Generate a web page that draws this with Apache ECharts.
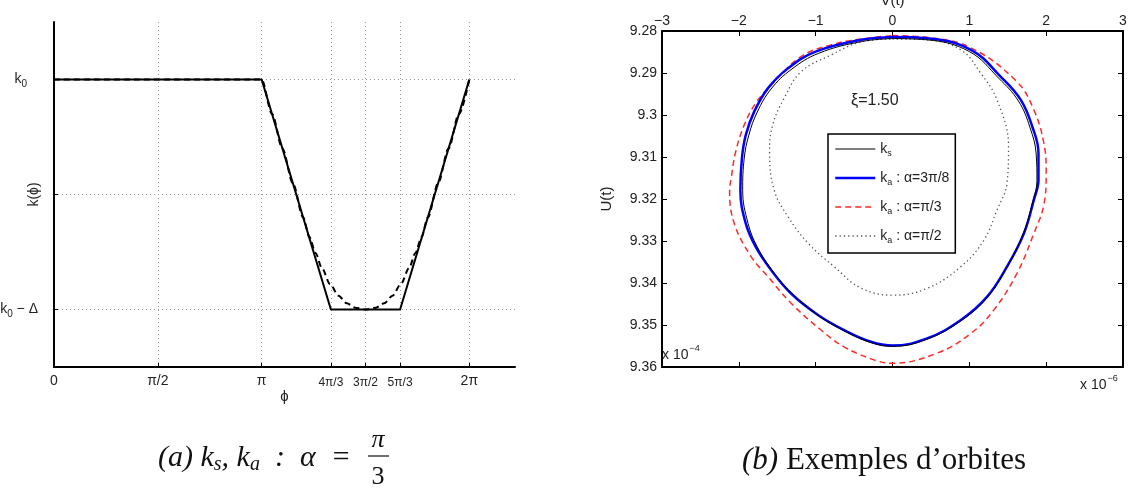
<!DOCTYPE html>
<html lang="fr">
<head>
<meta charset="UTF-8">
<title>k(phi) et exemples d'orbites</title>
<script src="https://cdn.jsdelivr.net/npm/echarts@6/dist/echarts.min.js"></script>
<style>
  html, body { margin: 0; padding: 0; background: #fff; }
  #main { width: 1130px; height: 494px; }
</style>
</head>
<body>
<div id="main"></div>
<script>
// (a) profils k(phi) -- abscisse en multiples de pi, k normalise (k0 = 1, k0 - delta = 0)
const phiTicks = [0, 0.5, 1, 4 / 3, 1.5, 5 / 3, 2];
const phiLabels = ['0', 'π/2', 'π', '4π/3', '3π/2', '5π/3', '2π'];
const kTicks = [0, 0.5, 1];

const ksPhi = [0, 1, 4 / 3, 5 / 3, 2];
const ksK = [1, 1, 0, 0, 1];
const kaPhi = [0, 1, 1.05, 1.1, 1.15, 1.2, 1.23, 1.26, 1.29, 1.33, 1.37, 1.41, 1.45, 1.5,
               1.55, 1.59, 1.63, 1.67, 1.71, 1.74, 1.77, 1.8, 1.85, 1.9, 1.95, 2];
const kaK = [1, 1, 0.85, 0.70, 0.55, 0.40, 0.315, 0.245, 0.18, 0.11, 0.06, 0.027, 0.008, 0,
             0.008, 0.027, 0.06, 0.11, 0.18, 0.245, 0.315, 0.40, 0.55, 0.70, 0.85, 1];

// (b) orbites -- V en unites de 1e-6, U en unites de 1e-4
const orbitNames = ['ks', 'ka : α=3π/8', 'ka : α=π/3', 'ka : α=π/2'];

const vKs = [0, 0.45, 1.00, 1.38, 1.64, 1.79, 1.87, 1.88, 1.83, 1.70, 1.49, 1.23, 0.89, 0.45, 0,
             -0.28, -0.63, -0.97, -1.31, -1.57, -1.76, -1.88, -1.95, -1.93, -1.87, -1.76, -1.58, -1.32, -0.96, -0.40, 0];
const uKs = [9.2818, 9.2821, 9.2849, 9.2912, 9.2967, 9.3030, 9.3093, 9.3156, 9.3203, 9.3283, 9.3362, 9.3435, 9.3490, 9.3534, 9.3551,
             9.3542, 9.3514, 9.3477, 9.3425, 9.3369, 9.3314, 9.3258, 9.3179, 9.3103, 9.3048, 9.2993, 9.2938, 9.2892, 9.2853, 9.2825, 9.2818];

const vA38 = [0, 0.45, 1.02, 1.41, 1.67, 1.82, 1.90, 1.90, 1.84, 1.71, 1.49, 1.23, 0.89, 0.45, 0,
              -0.28, -0.63, -0.97, -1.32, -1.58, -1.78, -1.91, -1.98, -1.96, -1.91, -1.80, -1.62, -1.36, -1.00, -0.41, 0];
const uA38 = [9.2814, 9.2817, 9.2845, 9.2909, 9.2964, 9.3028, 9.3091, 9.3155, 9.3202, 9.3282, 9.3361, 9.3433, 9.3488, 9.3532, 9.3549,
              9.3540, 9.3512, 9.3476, 9.3425, 9.3369, 9.3314, 9.3258, 9.3179, 9.3103, 9.3048, 9.2992, 9.2936, 9.2889, 9.2849, 9.2821, 9.2814];

const vA13 = [0, 0.45, 1.02, 1.62, 1.84, 1.97, 2.00, 1.97, 1.84, 1.62, 1.32, 1.02, 0.58, 0,
              -0.24, -0.63, -0.93, -1.32, -1.62, -1.84, -2.06, -2.12, -2.10, -2.04, -1.93, -1.78, -1.60, -1.19, -0.80, -0.41, 0];
const uA13 = [9.2811, 9.2815, 9.2840, 9.2921, 9.2988, 9.3067, 9.3139, 9.3214, 9.3282, 9.3377, 9.3464, 9.3520, 9.3567, 9.3591,
              9.3583, 9.3552, 9.3512, 9.3448, 9.3385, 9.3337, 9.3258, 9.3179, 9.3151, 9.3087, 9.3024, 9.2972, 9.2933, 9.2861, 9.2833, 9.2819, 9.2811];

const vA12 = [0, 0.45, 0.89, 1.15, 1.36, 1.51, 1.49, 1.36, 1.19, 0.89, 0.45, 0,
              -0.41, -0.76, -1.10, -1.36, -1.54, -1.60, -1.56, -1.41, -1.19, -0.80, -0.41, 0];
const uA12 = [9.2819, 9.2821, 9.2845, 9.2901, 9.2964, 9.3075, 9.3163, 9.3226, 9.3298, 9.3361, 9.3413, 9.3429,
              9.3412, 9.3361, 9.3305, 9.3242, 9.3179, 9.3087, 9.3024, 9.2960, 9.2897, 9.2857, 9.2826, 9.2819];

const zip = (xs, ys) => xs.map((x, i) => [x, ys[i]]);
const sans = 'Liberation Sans';
const serif = 'Liberation Serif';
const ink = '#222';

const subRich = {
  k: { fontSize: 14, fontFamily: sans, color: ink },
  s: { fontSize: 9, fontFamily: sans, color: ink, padding: [9, 0, 0, 0] },
  t: { fontSize: 14, fontFamily: sans, color: ink }
};

function phiLabel(v) {
  const i = phiTicks.findIndex(t => Math.abs(t - v) < 1e-6);
  if (i < 0) return '';
  const small = i >= 3 && i <= 5;
  return '{' + (small ? 'sm' : 'bg') + '|' + phiLabels[i] + '}';
}

function kLabel(v) {
  if (Math.abs(v - 1) < 1e-6) return '{k|k}{s2|0}';
  if (Math.abs(v) < 1e-6) return '{k|k}{s|0}{k| − Δ}';
  return '';
}

function legendText(name) {
  const m = name.match(/^k(.)(.*)$/);
  return '{k|k}{s|' + m[1] + '}' + (m[2] ? '{t|' + m[2] + '}' : '');
}

const minus = v => (v < 0 ? '−' + Math.abs(v) : String(v));

const boxAxis = { onZero: false, lineStyle: { color: '#000', width: 2 } };
const nameFont = { fontFamily: sans, fontSize: 15, color: ink };

const option = {
  animation: false,
  backgroundColor: '#fff',
  grid: [
    { left: 54, top: 22, width: 461, height: 345, outerBoundsMode: 'none' },
    { left: 662, top: 31, width: 461, height: 336, outerBoundsMode: 'none' }
  ],
  xAxis: [
    {
      gridIndex: 0, type: 'value', min: 0, max: 2.22,
      name: 'ϕ', nameLocation: 'middle', nameGap: 22, nameMoveOverlap: false,
      nameTextStyle: nameFont,
      axisLine: boxAxis,
      axisTick: { inside: true, length: 4, customValues: phiTicks, lineStyle: { color: '#000' } },
      axisLabel: {
        customValues: phiTicks, margin: 7, formatter: phiLabel,
        rich: {
          bg: { fontSize: 14, fontFamily: sans, color: ink },
          sm: { fontSize: 12, fontFamily: sans, color: ink, padding: [3, 0, 0, 0] }
        }
      },
      splitLine: { show: true, lineStyle: { color: '#999', type: [1, 3], width: 1 } }
    },
    {
      gridIndex: 1, type: 'value', position: 'top', min: -3, max: 3, interval: 1,
      name: 'V(t)', nameLocation: 'middle', nameGap: 23, nameMoveOverlap: false,
      nameTextStyle: nameFont,
      axisLine: boxAxis,
      axisTick: { inside: true, length: 5, lineStyle: { color: '#000' } },
      axisLabel: { margin: 3, fontFamily: sans, fontSize: 14, color: ink, formatter: minus },
      splitLine: { show: false }
    },
    {
      gridIndex: 1, type: 'value', position: 'bottom', min: -3, max: 3, interval: 1,
      axisLine: boxAxis,
      axisTick: { inside: true, length: 5, lineStyle: { color: '#000' } },
      axisLabel: { show: false },
      splitLine: { show: false }
    }
  ],
  yAxis: [
    {
      gridIndex: 0, type: 'value', min: -0.25, max: 1.25,
      name: 'k(ϕ)', nameLocation: 'middle', nameGap: 13, nameMoveOverlap: false,
      nameTextStyle: { fontFamily: sans, fontSize: 14, color: ink },
      axisLine: boxAxis,
      axisTick: { inside: true, length: 4, customValues: kTicks, lineStyle: { color: '#000' } },
      axisLabel: {
        customValues: kTicks, margin: 16, formatter: kLabel,
        rich: {
          k: { fontSize: 14, fontFamily: sans, color: ink },
          s: { fontSize: 10, fontFamily: sans, color: ink, padding: [9, 0, 0, 0] },
          s2: { fontSize: 10, fontFamily: sans, color: ink, padding: [9, 11, 0, 0] }
        }
      },
      splitLine: { show: true, lineStyle: { color: '#999', type: [1, 3], width: 1 } }
    },
    {
      gridIndex: 1, type: 'value', inverse: true, min: 9.28, max: 9.36, interval: 0.01,
      name: 'U(t)', nameLocation: 'middle', nameGap: 48, nameMoveOverlap: false,
      nameTextStyle: nameFont,
      axisLine: boxAxis,
      axisTick: { inside: true, length: 5, lineStyle: { color: '#000' } },
      axisLabel: { margin: 5, fontFamily: sans, fontSize: 14, color: ink },
      splitLine: { show: false }
    },
    {
      gridIndex: 1, type: 'value', position: 'right', inverse: true, min: 9.28, max: 9.36, interval: 0.01,
      axisLine: boxAxis,
      axisTick: { inside: true, length: 5, lineStyle: { color: '#000' } },
      axisLabel: { show: false },
      splitLine: { show: false }
    }
  ],
  legend: {
    data: orbitNames,
    orient: 'vertical',
    left: 828, top: 134,
    padding: [8, 6, 8, 6],
    itemWidth: 40, itemHeight: 14, itemGap: 13,
    borderColor: '#000', borderWidth: 1.5,
    backgroundColor: '#fff',
    selectedMode: false,
    itemStyle: { opacity: 0 },
    lineStyle: { width: 'inherit' },
    formatter: legendText,
    textStyle: { rich: subRich }
  },
  graphic: [
    {
      type: 'text', left: 851, top: 93,
      style: { text: 'ξ=1.50', fontFamily: sans, fontSize: 16, fill: ink }
    },
    {
      type: 'text', left: 662, top: 344,
      style: {
        text: '{a|x 10}{b|−4}',
        rich: {
          a: { fontFamily: sans, fontSize: 14, fill: ink, padding: [6, 0, 0, 0] },
          b: { fontFamily: sans, fontSize: 9, fill: ink, padding: [0, 0, 7, 1] }
        }
      }
    },
    {
      type: 'text', left: 1080, top: 374,
      style: {
        text: '{a|x 10}{b|−6}',
        rich: {
          a: { fontFamily: sans, fontSize: 14, fill: ink, padding: [6, 0, 0, 0] },
          b: { fontFamily: sans, fontSize: 9, fill: ink, padding: [0, 0, 7, 1] }
        }
      }
    },
    {
      type: 'text', left: 158, top: 443,
      style: {
        text: '{i|(a) k}{s|s}{i|, k}{s|a}{i|  :  α  =}',
        rich: {
          i: { fontFamily: serif, fontStyle: 'italic', fontSize: 30, fill: '#111' },
          s: { fontFamily: serif, fontStyle: 'italic', fontSize: 20, fill: '#111', padding: [13, 0, 0, 0] }
        }
      }
    },
    {
      type: 'text', x: 378, y: 440,
      style: { text: 'π', fontFamily: serif, fontStyle: 'italic', fontSize: 26, fill: '#111', align: 'center', verticalAlign: 'middle' }
    },
    {
      type: 'line', shape: { x1: 368, y1: 456, x2: 389, y2: 456 },
      style: { stroke: '#111', lineWidth: 1.2 }
    },
    {
      type: 'text', x: 378, y: 477,
      style: { text: '3', fontFamily: serif, fontSize: 26, fill: '#111', align: 'center', verticalAlign: 'middle' }
    },
    {
      type: 'text', left: 742, top: 445,
      style: {
        text: '{i|(b)}{r| Exemples d’orbites}',
        rich: {
          i: { fontFamily: serif, fontStyle: 'italic', fontSize: 31, fill: '#111' },
          r: { fontFamily: serif, fontSize: 31, fill: '#111' }
        }
      }
    }
  ],
  series: [
    {
      name: 'k_a(ϕ)', type: 'line', xAxisIndex: 0, yAxisIndex: 0,
      data: zip(kaPhi, kaK), symbol: 'none', smooth: 0.3, smoothMonotone: 'x',
      lineStyle: { color: '#000', width: 2, type: [6, 4] }
    },
    {
      name: 'k_s(ϕ)', type: 'line', xAxisIndex: 0, yAxisIndex: 0,
      data: zip(ksPhi, ksK), symbol: 'none',
      lineStyle: { color: '#000', width: 2 }
    },
    {
      name: orbitNames[2], type: 'line', xAxisIndex: 1, yAxisIndex: 1,
      data: zip(vA13, uA13), symbol: 'none', smooth: 0.4,
      itemStyle: { color: '#ff2a2a' },
      lineStyle: { color: '#ff2a2a', width: 1.5, type: [6, 4] }
    },
    {
      name: orbitNames[3], type: 'line', xAxisIndex: 1, yAxisIndex: 1,
      data: zip(vA12, uA12), symbol: 'none', smooth: 0.4,
      itemStyle: { color: '#555' },
      lineStyle: { color: '#555', width: 1.3, type: [1.3, 3] }
    },
    {
      name: orbitNames[1], type: 'line', xAxisIndex: 1, yAxisIndex: 1,
      data: zip(vA38, uA38), symbol: 'none', smooth: 0.4,
      itemStyle: { color: '#0000ff' },
      lineStyle: { color: '#0000ff', width: 2.5 }
    },
    {
      name: orbitNames[0], type: 'line', xAxisIndex: 1, yAxisIndex: 1,
      data: zip(vKs, uKs), symbol: 'none', smooth: 0.4,
      itemStyle: { color: '#000' },
      lineStyle: { color: '#000', width: 1 }
    }
  ]
};

const chart = echarts.init(document.getElementById('main'));
chart.setOption(option);
</script>
</body>
</html>
